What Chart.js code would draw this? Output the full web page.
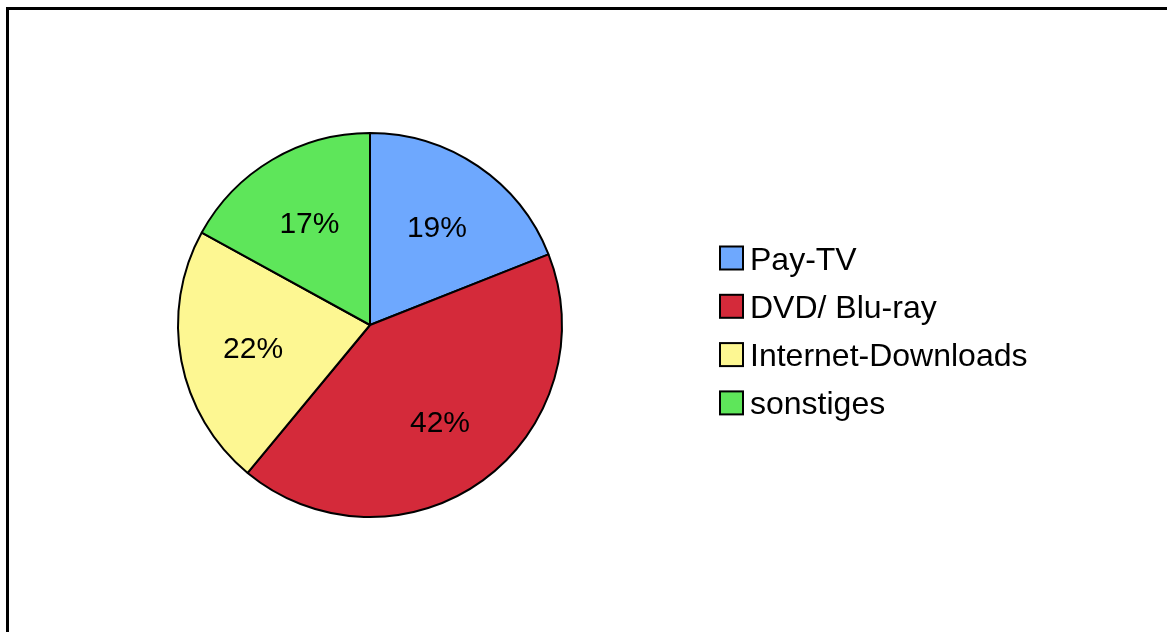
<!DOCTYPE html>
<html>
<head>
<meta charset="utf-8">
<script src="https://cdn.jsdelivr.net/npm/chart.js@4/dist/chart.umd.min.js"></script>
<style>
  html, body { margin: 0; padding: 0; background: #fff; }
  #wrap { position: relative; width: 1167px; height: 632px; overflow: hidden; }
  /* Rahmen oben und links */
  #rahmen { position: absolute; left: 6px; top: 7px; width: 1300px; height: 800px;
            border-left: 3px solid #000; border-top: 3px solid #000; }
  #pieChart { position: absolute; left: 0; top: 0; }
</style>
</head>
<body>
<div id="wrap">
  <div id="rahmen"></div>
  <canvas id="pieChart" width="1167" height="632"></canvas>
</div>
<script>
// Daten des Diagramms
const kategorien = ['Pay-TV', 'DVD/ Blu-ray', 'Internet-Downloads', 'sonstiges'];
const anteile = [19, 42, 22, 17];
const farben = ['#6ea8fe', '#d42a3a', '#fdf792', '#5ee65a'];

const FONT = '"Liberation Sans", Arial, Helvetica, sans-serif';

// Prozentwerte in die Segmente schreiben
const prozentLabels = {
    id: 'prozentLabels',
    afterDatasetsDraw(chart, args, opts) {
        const ctx = chart.ctx;
        const meta = chart.getDatasetMeta(0);
        const werte = chart.data.datasets[0].data;
        ctx.save();
        ctx.font = opts.size + 'px ' + FONT;
        ctx.fillStyle = '#000';
        ctx.textAlign = 'center';
        ctx.textBaseline = 'alphabetic';
        meta.data.forEach((arc, i) => {
            const p = arc.getProps(['x', 'y', 'startAngle', 'endAngle', 'outerRadius'], true);
            const mitte = (p.startAngle + p.endAngle) / 2;
            const r = p.outerRadius * opts.radius;
            const x = p.x + Math.cos(mitte) * r;
            const y = p.y + Math.sin(mitte) * r;
            ctx.fillText(werte[i] + '%', x, y + opts.size * 0.36);
        });
        ctx.restore();
    }
};

// Legende rechts neben dem Kreis
const legende = {
    id: 'legende',
    afterDraw(chart, args, opts) {
        const ctx = chart.ctx;
        const ds = chart.data.datasets[0];
        ctx.save();
        ctx.font = opts.size + 'px ' + FONT;
        ctx.textBaseline = 'alphabetic';
        ctx.textAlign = 'left';
        chart.data.labels.forEach((label, i) => {
            const cy = opts.y + i * opts.step;
            ctx.fillStyle = ds.backgroundColor[i];
            ctx.fillRect(opts.x, cy - opts.box / 2, opts.box, opts.box);
            ctx.lineWidth = 2;
            ctx.strokeStyle = '#000';
            ctx.strokeRect(opts.x, cy - opts.box / 2, opts.box, opts.box);
            ctx.fillStyle = '#000';
            ctx.fillText(label, opts.x + opts.box + 7, cy + opts.size * 0.36);
        });
        ctx.restore();
    }
};

const chart = new Chart(document.getElementById('pieChart').getContext('2d'), {
    type: 'pie',
    data: {
        labels: kategorien,
        datasets: [{
            data: anteile,
            backgroundColor: farben,
            borderColor: '#000',
            borderWidth: 2,
            hoverOffset: 0
        }]
    },
    options: {
        responsive: false,
        animation: false,
        layout: {
            padding: { left: 30, right: 457, top: 132, bottom: 114 }
        },
        plugins: {
            legend: { display: false },
            tooltip: { enabled: false },
            prozentLabels: { size: 30, radius: 0.62 },
            legende: { x: 720, y: 258, step: 48.3, box: 23, size: 32 }
        }
    },
    plugins: [prozentLabels, legende]
});
</script>
</body>
</html>
